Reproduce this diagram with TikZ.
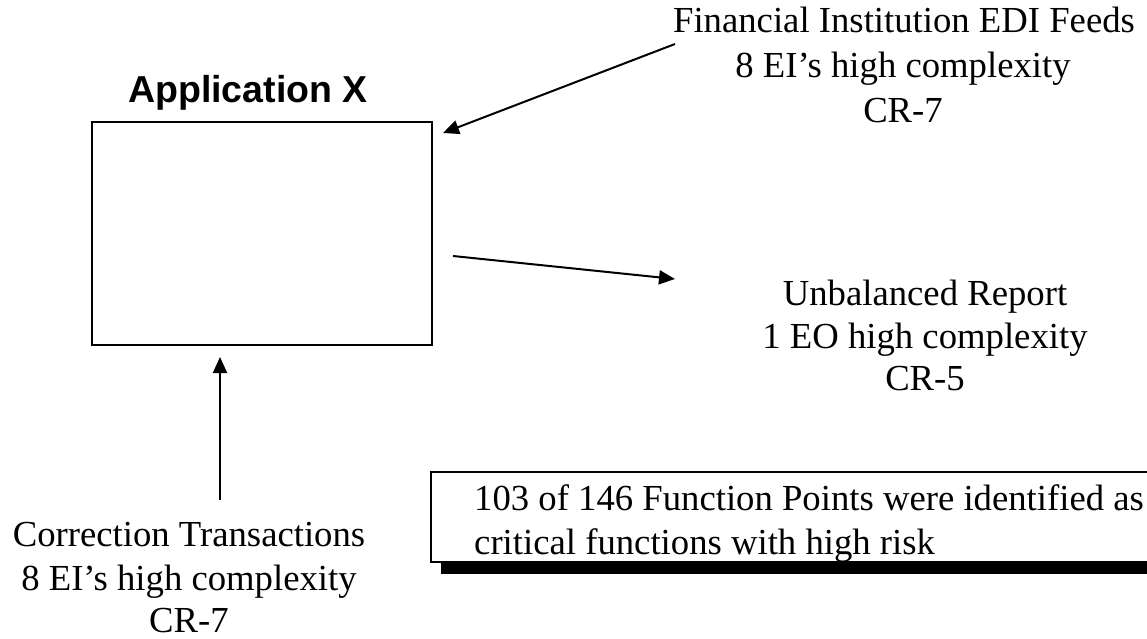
\documentclass[tikz,border=0pt]{standalone}
\usepackage{fontspec}
\setmainfont{Liberation Serif}
\newfontfamily\titlefont{Liberation Sans}
\usetikzlibrary{arrows.meta}
\tikzset{
  txt/.style={inner sep=0pt, font=\fontsize{36.7}{44}\selectfont},
  ttl/.style={inner sep=0pt, font=\titlefont\bfseries\fontsize{37.5}{44}\selectfont},
  flow/.style={line width=2pt, -{Triangle[length=16pt,width=14pt]}},
  frame/.style={draw, line width=2pt}
}
\begin{document}
\begin{tikzpicture}[x=1pt,y=-1pt]
\useasboundingbox (0,0) rectangle (1147,639);

% application block and its title
\draw[frame] (92,122) rectangle (432,345);
\node[ttl, anchor=base] (title) at (248,103) {Application X};

% incoming feed
\node[txt, anchor=base] (fin1) at (904,33) {Financial Institution EDI Feeds};
\node[txt, anchor=base] (fin2) at (903,78) {8 EI’s high complexity};
\node[txt, anchor=base] (fin3) at (903,123) {CR-7};
\coordinate (finTail) at (675,44);
\coordinate (finTip) at (443,133);
\draw[flow] (finTail) -- (finTip);

% outgoing report
\node[txt, anchor=base] (rep1) at (925,305) {Unbalanced Report};
\node[txt, anchor=base] (rep2) at (925,348) {1 EO high complexity};
\node[txt, anchor=base] (rep3) at (925,390) {CR-5};
\coordinate (repTail) at (453,256);
\coordinate (repTip) at (675,279);
\draw[flow] (repTail) -- (repTip);

% correction input
\node[txt, anchor=base] (cor1) at (189,546) {Correction Transactions};
\node[txt, anchor=base] (cor2) at (189,590) {8 EI’s high complexity};
\node[txt, anchor=base] (cor3) at (189,632) {CR-7};
\coordinate (corTail) at (220,500);
\coordinate (corTip) at (220,357);
\draw[flow] (corTail) -- (corTip);

% summary box with drop shadow
\fill[black] (441,482) rectangle (1175,574);
\draw[frame, fill=white] (431,472) rectangle (1165,562);
\node[txt, anchor=base west] (sum1) at (474,510) {103 of 146 Function Points were identified as};
\node[txt, anchor=base west] (sum2) at (474,554) {critical functions with high risk};
\end{tikzpicture}
\end{document}
